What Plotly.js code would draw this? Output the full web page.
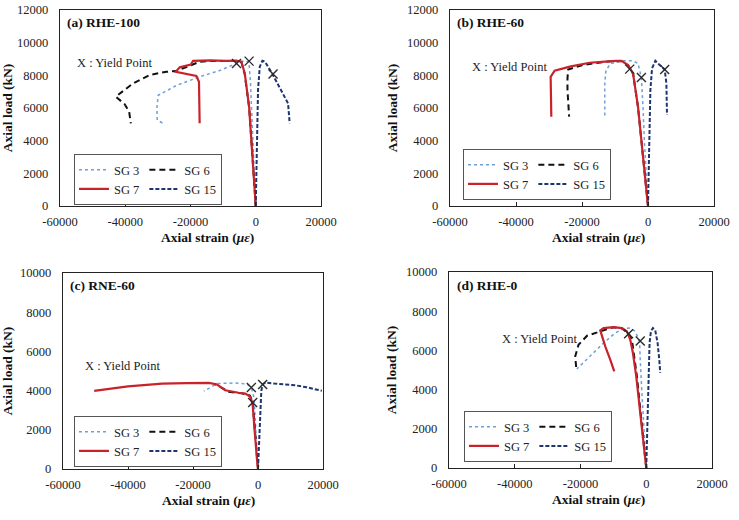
<!DOCTYPE html>
<html>
<head>
<meta charset="utf-8">
<script src="https://cdn.plot.ly/plotly-3.0.1.min.js"></script>
<style>
  html, body { margin: 0; padding: 0; background: #ffffff; }
  #chart { width: 739px; height: 520px; }
</style>
</head>
<body>
<div id="chart"></div>
<script>
// ---- labels ----
const panelTitles = ['(a) RHE-100', '(b) RHE-60', '(c) RNE-60', '(d) RHE-0'];
const seriesNames = ['SG 3', 'SG 6', 'SG 7', 'SG 15'];
const yieldLabel = 'X : Yield Point';
const xTitle = 'Axial strain (<i>με</i>)';
const yTitle = 'Axial load (kN)';

const xTicks = [-60000, -40000, -20000, 0, 20000];
const xTickLabels = ['-60000', '-40000', '-20000', '0', '20000'];
const yTicksHigh = [0, 2000, 4000, 6000, 8000, 10000, 12000];
const yTickLabelsHigh = ['0', '2000', '4000', '6000', '8000', '10000', '12000'];
const yTicksLow = [0, 2000, 4000, 6000, 8000, 10000];
const yTickLabelsLow = ['0', '2000', '4000', '6000', '8000', '10000'];

// ---- (a) RHE-100 ----
const aSG3x = [0, -500, -900, -1300, -1600, -2100, -3500, -5900, -11000, -17200, -24200, -29900, -30300, -30200, -28400];
const aSG3y = [0, 2000, 4000, 6000, 7500, 8830, 8900, 8730, 8300, 7910, 7390, 6780, 6000, 5260, 5060];
const aSG6x = [0, -1000, -2000, -3400, -4400, -6400, -10000, -14000, -17200, -19700, -22000, -24400, -27400, -32500, -37600, -42900, -40200, -38800, -38300];
const aSG6y = [0, 3000, 6000, 8100, 8800, 8880, 8880, 8870, 8830, 8630, 8450, 8260, 8220, 8020, 7510, 6690, 6240, 5770, 5060];
const aSG7x = [0, -1000, -2040, -3370, -4390, -6000, -9000, -14100, -19200, -19900, -23300, -24500, -21800, -18200, -17400, -17300, -17200];
const aSG7y = [0, 3020, 6080, 8120, 8830, 8900, 8890, 8920, 8890, 8660, 8490, 8220, 8120, 7960, 7610, 6500, 5060];
const aSG15x = [0, 200, 400, 700, 1230, 2040, 2860, 5000, 9910, 10400];
const aSG15y = [0, 2000, 4000, 7100, 8530, 8890, 8830, 8120, 6280, 5060];
const aYieldX = [-5900, -2040, 5300];
const aYieldY = [8730, 8870, 8080];

// ---- (b) RHE-60 ----
const bSG3x = [0, -600, -1100, -1500, -2000, -3030, -4540, -8060, -11600, -12800, -13100, -13100];
const bSG3y = [0, 2000, 4000, 6000, 7850, 8730, 8890, 8890, 8690, 8220, 7490, 5510];
const bSG6x = [0, -1500, -3000, -4500, -6000, -8000, -12000, -16000, -20000, -24200, -24400, -24400, -23900];
const bSG6y = [0, 3000, 6000, 8100, 8600, 8870, 8850, 8750, 8620, 8360, 7800, 7100, 5470];
const bSG7x = [0, -1500, -3030, -4540, -6060, -8060, -9570, -13000, -17700, -23700, -28300, -29500, -29500, -29300];
const bSG7y = [0, 3020, 6080, 8120, 8630, 8890, 8890, 8840, 8770, 8530, 8280, 7910, 7100, 5470];
const bSG15x = [0, 150, 300, 500, 720, 1230, 2230, 3540, 5050, 5570, 5760];
const bSG15y = [0, 2000, 4040, 6000, 7100, 8430, 8890, 8630, 8360, 7510, 5570];
const bYieldX = [-5550, -2000, 5050];
const bYieldY = [8380, 7870, 8360];

// ---- (c) RNE-60 ----
const cSG3x = [0, -400, -800, -1200, -2050, -3380, -6960, -10000, -12600, -14800, -16700];
const cSG3y = [0, 1200, 2490, 3600, 4160, 4330, 4390, 4370, 4360, 4150, 3970];
const cSG6x = [0, -500, -1000, -1640, -2500, -5000, -9000, -12000, -13500];
const cSG6y = [0, 1000, 2200, 3390, 3750, 3860, 3940, 4230, 4360];
const cSG7x = [0, -300, -1130, -1640, -2330, -3890, -6000, -8140, -10100, -12600, -15100, -22000, -29500, -40000, -50400];
const cSG7y = [0, 460, 2160, 3300, 3680, 3850, 3890, 3940, 4020, 4310, 4390, 4380, 4360, 4220, 3990];
const cSG15x = [0, 300, 720, 1020, 1430, 2250, 5000, 8000, 11460, 15000, 19650];
const cSG15y = [0, 1200, 2490, 3990, 4310, 4410, 4360, 4320, 4270, 4170, 3990];
const cYieldX = [-2050, -1640, 1430];
const cYieldY = [4160, 3390, 4310];

// ---- (d) RHE-0 ----
const dSG3x = [0, -610, -1320, -1830, -2030, -3350, -4870, -6900, -9430, -12980, -17000, -21100];
const dSG3y = [0, 1620, 3830, 5530, 6460, 6970, 7140, 7110, 6890, 6380, 5700, 5050];
const dSG6x = [0, -1320, -2840, -4360, -5370, -7400, -10000, -14000, -18000, -20600, -21600, -21300];
const dSG6y = [0, 2125, 4680, 6545, 6850, 7130, 7180, 6970, 6750, 6290, 5700, 5100];
const dSG7x = [0, -810, -1830, -3040, -4060, -4870, -5880, -7400, -9940, -12980, -13990, -12470, -10950, -9730];
const dSG7y = [0, 1280, 2980, 4680, 5870, 6550, 6970, 7140, 7190, 7140, 7020, 6210, 5530, 4930];
const dSG15x = [0, 410, 710, 1010, 1420, 2030, 2740, 3450, 3960, 4260];
const dSG15y = [0, 2130, 4680, 6380, 6970, 7140, 7020, 6380, 5530, 4850];
const dYieldX = [-5370, -1830];
const dYieldY = [6850, 6480];

// ---- styling ----
const W = 739, H = 520;
const SERIF = 'Liberation Serif';
const lineStyles = [
  { color: '#6f9fd8', width: 1.5, dash: 'dot' },       // SG 3
  { color: '#111111', width: 2, dash: '6px,4px' },     // SG 6
  { color: '#c8232b', width: 2.2, dash: 'solid' },     // SG 7
  { color: '#1d3670', width: 2, dash: '4px,2px' }      // SG 15
];
// SG 3 / SG 7 share the first legend column, SG 6 / SG 15 the second
const legendColumns = ['c1', 'c2', 'c1', 'c2'];

// plot areas in pixels: [left, right, top, bottom]
const boxes = [
  [60, 321, 10, 206],
  [450, 714, 10, 206],
  [63, 323, 273, 469],
  [449, 712, 272, 468]
];
const px = v => v / W;
const py = v => 1 - v / H;

const panels = [
  { series: [[aSG3x, aSG3y], [aSG6x, aSG6y], [aSG7x, aSG7y], [aSG15x, aSG15y]], yld: [aYieldX, aYieldY], ymax: 12000, yt: yTicksHigh, ytl: yTickLabelsHigh },
  { series: [[bSG3x, bSG3y], [bSG6x, bSG6y], [bSG7x, bSG7y], [bSG15x, bSG15y]], yld: [bYieldX, bYieldY], ymax: 12000, yt: yTicksHigh, ytl: yTickLabelsHigh },
  { series: [[cSG3x, cSG3y], [cSG6x, cSG6y], [cSG7x, cSG7y], [cSG15x, cSG15y]], yld: [cYieldX, cYieldY], ymax: 10000, yt: yTicksLow, ytl: yTickLabelsLow },
  { series: [[dSG3x, dSG3y], [dSG6x, dSG6y], [dSG7x, dSG7y], [dSG15x, dSG15y]], yld: [dYieldX, dYieldY], ymax: 10000, yt: yTicksLow, ytl: yTickLabelsLow }
];

// text positions in pixels
const titlePos = [[65, 23], [455, 23], [68, 285], [455, 285]];
const yieldTextPos = [[75, 63], [470, 67], [83, 366], [500, 339]];
const xTitlePos = [[207, 238], [598, 238], [209, 500], [598, 499]];
const legendPos = [[74, 154], [463, 149], [74, 416], [464, 411]];

const tickFont = { family: SERIF, size: 12.5, color: '#222' };
const traces = [];
const layout = {
  width: W, height: H, autosize: false,
  margin: { l: 0, r: 0, t: 0, b: 0 },
  paper_bgcolor: '#ffffff', plot_bgcolor: '#ffffff',
  font: { family: SERIF, color: '#222' },
  annotations: [],
  showlegend: true
};

panels.forEach((p, i) => {
  const n = i + 1;
  const xa = n === 1 ? 'x' : 'x' + n;
  const ya = n === 1 ? 'y' : 'y' + n;
  const lg = n === 1 ? 'legend' : 'legend' + n;
  const b = boxes[i];
  const xRange = [-60000, 20000];

  p.series.forEach((s, k) => {
    traces.push({
      type: 'scatter', mode: 'lines',
      x: s[0], y: s[1],
      xaxis: xa, yaxis: ya,
      name: seriesNames[k],
      legend: lg,
      legendgroup: 'p' + n + legendColumns[k],
      line: Object.assign({}, lineStyles[k]),
      hoverinfo: 'x+y+name'
    });
  });
  traces.push({
    type: 'scatter', mode: 'markers',
    x: p.yld[0], y: p.yld[1],
    xaxis: xa, yaxis: ya,
    showlegend: false, legend: lg,
    marker: { symbol: 'x-thin-open', size: 9, color: '#2a2a2a', line: { width: 1.4, color: '#2a2a2a' } },
    hoverinfo: 'x+y'
  });

  const xd = [px(b[0]), px(b[1])];
  const yd = [py(b[3]), py(b[2])];
  layout['xaxis' + (n === 1 ? '' : n)] = {
    domain: xd, range: xRange, anchor: ya,
    tickvals: xTicks, ticktext: xTickLabels, tickfont: tickFont,
    ticks: 'inside', ticklen: 4, tickcolor: '#222', tickwidth: 1,
    ticklabelstandoff: 4,
    showline: true, mirror: true, linecolor: '#222', linewidth: 1.3,
    showgrid: false, zeroline: false,
    fixedrange: true
  };
  layout['yaxis' + (n === 1 ? '' : n)] = {
    domain: yd, range: [0, p.ymax], anchor: xa,
    tickvals: p.yt, ticktext: p.ytl, tickfont: tickFont,
    ticks: '', ticklabelstandoff: 8,
    showline: true, mirror: true, linecolor: '#222', linewidth: 1.3,
    showgrid: false, zeroline: false,
    title: { text: '<b>' + yTitle + '</b>', font: { family: SERIF, size: 13.5, color: '#111' }, standoff: 6 },
    fixedrange: true
  };
  // axis through strain = 0 carrying the small load ticks
  const zeroPos = xd[0] + (0 - xRange[0]) / (xRange[1] - xRange[0]) * (xd[1] - xd[0]);
  layout['yaxis' + (n + 4)] = {
    overlaying: ya, anchor: 'free', position: zeroPos, side: 'left',
    range: [0, p.ymax], tickvals: p.yt, showticklabels: false,
    ticks: 'inside', ticklen: 4, tickcolor: '#000', tickwidth: 1,
    showline: true, linecolor: '#000', linewidth: 1.3,
    showgrid: false, zeroline: false, fixedrange: true
  };

  layout[lg] = {
    x: px(legendPos[i][0]), y: py(legendPos[i][1]),
    xanchor: 'left', yanchor: 'top',
    orientation: 'h', traceorder: 'grouped', tracegroupgap: 2,
    itemwidth: 30,
    bgcolor: '#ffffff', bordercolor: '#555', borderwidth: 1,
    font: { family: SERIF, size: 12.5, color: '#222' }
  };

  layout.annotations.push({
    xref: 'paper', yref: 'paper', x: px(titlePos[i][0]), y: py(titlePos[i][1]),
    xanchor: 'left', yanchor: 'middle', showarrow: false,
    text: '<b>' + panelTitles[i] + '</b>',
    font: { family: SERIF, size: 13.5, color: '#111' }
  });
  layout.annotations.push({
    xref: 'paper', yref: 'paper', x: px(yieldTextPos[i][0]), y: py(yieldTextPos[i][1]),
    xanchor: 'left', yanchor: 'middle', showarrow: false,
    text: yieldLabel,
    font: { family: SERIF, size: 12.5, color: '#222' }
  });
  layout.annotations.push({
    xref: 'paper', yref: 'paper', x: px(xTitlePos[i][0]), y: py(xTitlePos[i][1]),
    xanchor: 'center', yanchor: 'middle', showarrow: false,
    text: '<b>' + xTitle + '</b>',
    font: { family: SERIF, size: 13.5, color: '#111' }
  });
});

Plotly.newPlot('chart', traces, layout, { staticPlot: true, displayModeBar: false });
</script>
</body>
</html>
